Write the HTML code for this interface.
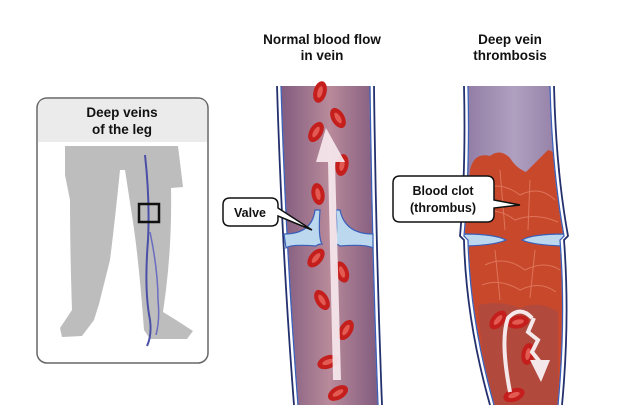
<!DOCTYPE html>
<html><head><meta charset="utf-8"><style>
html,body{margin:0;padding:0;background:#fff;}
svg{display:block;font-family:"Liberation Sans",sans-serif;}
</style></head><body>
<svg width="620" height="414" viewBox="0 0 620 414" xmlns="http://www.w3.org/2000/svg">
<defs>
<linearGradient id="vn" x1="0" x2="1" y1="0" y2="0">
<stop offset="0" stop-color="#7f5a7e"/><stop offset="0.5" stop-color="#b88a9a"/><stop offset="1" stop-color="#7f5a7e"/>
</linearGradient>
<linearGradient id="vt" x1="0" x2="1" y1="0" y2="0">
<stop offset="0" stop-color="#8f7aa2"/><stop offset="0.5" stop-color="#b0a0c0"/><stop offset="1" stop-color="#8f7aa2"/>
</linearGradient>
<g id="rbc"><ellipse rx="6.5" ry="11" fill="#c41f1c"/><ellipse rx="2.5" ry="6" fill="#e35a52"/></g>
</defs>

<!-- Left panel -->
<rect x="37" y="98" width="171" height="265" rx="10" fill="#fff" stroke="#666" stroke-width="1.5"/>
<path d="M38 108 Q38 99 47 99 L198 99 Q207 99 207 108 L207 142 L38 142 Z" fill="#ebebeb"/>
<text x="122" y="117" font-size="13.5" font-weight="bold" text-anchor="middle" fill="#111">Deep veins</text>
<text x="122" y="134" font-size="13.5" font-weight="bold" text-anchor="middle" fill="#111">of the leg</text>
<!-- legs -->
<path d="M65 146 L178 146 L183 187 L171 188 Q172 240 166 290 L163 312 L176 320 L193 331 L187 339 L150 339 L144 330 Q139 262 133 222 L125 170 L120 170 Q115 220 110 260 L99 304 L94 320 L82 336 L62 337 L60 328 L72 310 Q70 250 70 200 L65 175 Z" fill="#bdbdbd"/>
<path d="M145 155 Q150 200 148 240 Q144 290 150 320 Q152 335 147 346" stroke="#4a4fa8" stroke-width="2" fill="none"/>
<path d="M150 232 Q158 270 158 300 Q160 320 156 335" stroke="#6a6cc0" stroke-width="1.5" fill="none"/>
<rect x="139" y="204" width="20" height="18" fill="none" stroke="#111" stroke-width="2.5"/>

<!-- Titles -->
<g font-size="13.5" font-weight="bold" text-anchor="middle" fill="#111">
<text x="322" y="44">Normal blood flow</text>
<text x="322" y="60">in vein</text>
<text x="510" y="44">Deep vein</text>
<text x="510" y="60">thrombosis</text>
</g>

<!-- Normal vein -->
<path d="M279 86 L372 86 Q374 250 380 405 L296 405 Q284 250 279 86 Z" fill="url(#vn)"/>
<path d="M279 86 Q284 250 296 405" stroke="#ffffff" stroke-width="5" fill="none"/>
<path d="M372 86 Q374 250 380 405" stroke="#ffffff" stroke-width="5" fill="none"/>
<path d="M277 86 Q282 250 294 405" stroke="#23306e" stroke-width="1.8" fill="none"/>
<path d="M281 86 Q286 250 298 405" stroke="#3a5fb8" stroke-width="1.3" fill="none"/>
<path d="M374 86 Q376 250 382 405" stroke="#23306e" stroke-width="1.8" fill="none"/>
<path d="M370 86 Q372 250 378 405" stroke="#3a5fb8" stroke-width="1.3" fill="none"/>
<!-- valve -->
<path d="M284 234 Q312 234 315 210 L320 210 Q318 238 322 244 Q318 244 316 246 Q290 244 286 248 Z" fill="#bcd8ef" stroke="#3a5fb8" stroke-width="1.2"/>
<path d="M373 234 Q345 234 340 210 L336 210 Q338 238 334 244 Q338 244 340 246 Q366 244 373 248 Z" fill="#bcd8ef" stroke="#3a5fb8" stroke-width="1.2"/>
<!-- cells -->
<use href="#rbc" transform="translate(320,92) rotate(15)"/>
<use href="#rbc" transform="translate(338,118) rotate(-30)"/>
<use href="#rbc" transform="translate(316,132) rotate(30)"/>
<use href="#rbc" transform="translate(342,165) rotate(10)"/>
<use href="#rbc" transform="translate(318,194) rotate(-10)"/>
<use href="#rbc" transform="translate(316,258) rotate(40)"/>
<use href="#rbc" transform="translate(342,272) rotate(-20)"/>
<use href="#rbc" transform="translate(322,300) rotate(-30)"/>
<use href="#rbc" transform="translate(346,330) rotate(30)"/>
<use href="#rbc" transform="translate(328,362) rotate(70)"/>
<use href="#rbc" transform="translate(338,393) rotate(60)"/>
<!-- arrow -->
<path d="M326 128 L345 162 L335 162 L341 380 L333 380 L328 162 L316 162 Z" fill="#f4e6ea" opacity="0.95"/>
<!-- Valve label -->
<path d="M223 205 Q223 198 230 198 L271 198 Q278 198 278 205 L278 208 L312 230 L278 216 L278 219 Q278 226 271 226 L230 226 Q223 226 223 219 Z" fill="#fff" stroke="#111" stroke-width="1.5"/>
<text x="250" y="217" font-size="12.5" font-weight="bold" text-anchor="middle" fill="#111">Valve</text>

<!-- DVT vein -->
<path d="M466 86 L552 86 Q554 170 566 236 L562 240 Q568 310 560 405 L492 405 Q468 320 466 240 L462 236 Q468 170 466 86 Z" fill="url(#vt)"/>
<!-- clot -->
<path d="M470 170 Q474 152 490 156 Q500 148 510 158 Q516 168 526 172 Q540 158 548 150 Q560 152 560 175 L566 236 L562 240 Q568 300 556 310 L540 300 Q520 310 500 300 L478 305 Q468 280 466 240 L462 236 Q468 200 470 170 Z" fill="#c8482c"/>
<path d="M466 240 Q470 320 492 405 L560 405 Q568 320 562 240 Z" fill="#c8482c"/>
<path d="M478 305 Q500 300 520 308 Q540 300 558 312 L558 405 L492 405 Q482 360 478 305 Z" fill="#ad4a40" opacity="0.85"/>
<g stroke="#e8876c" stroke-width="1" fill="none" opacity="0.7">
<path d="M480 190 Q500 180 520 195 Q540 185 555 200"/><path d="M475 215 Q495 205 515 220 Q535 212 558 222"/>
<path d="M485 265 Q505 255 525 270 Q545 260 560 270"/><path d="M482 285 Q500 278 520 290 Q540 280 556 292"/>
<path d="M500 170 L505 230"/><path d="M530 180 L528 230"/><path d="M495 250 L500 300"/><path d="M535 250 L530 298"/>
</g>
<use href="#rbc" transform="translate(518,322) rotate(80)"/>
<use href="#rbc" transform="translate(498,320) rotate(40)"/>
<use href="#rbc" transform="translate(528,354) rotate(10)"/>
<use href="#rbc" transform="translate(514,395) rotate(70)"/>
<!-- valve dvt -->
<path d="M464 234 Q495 234 506 240 Q496 245 466 246 Z" fill="#bcd8ef" stroke="#3a5fb8" stroke-width="1.2"/>
<path d="M564 234 Q532 234 522 240 Q532 245 564 246 Z" fill="#bcd8ef" stroke="#3a5fb8" stroke-width="1.2"/>
<!-- vein walls -->
<path d="M466 86 Q468 170 462 236 L466 240 Q468 320 492 405" stroke="#fff" stroke-width="5" fill="none"/>
<path d="M552 86 Q554 170 566 236 L562 240 Q568 320 560 405" stroke="#fff" stroke-width="5" fill="none"/>
<path d="M464 86 Q466 170 460 236 L464 240 Q466 320 490 405" stroke="#23306e" stroke-width="1.8" fill="none"/>
<path d="M468 86 Q470 170 464 236 L468 240 Q470 320 494 405" stroke="#3a5fb8" stroke-width="1.3" fill="none"/>
<path d="M554 86 Q556 170 568 236 L564 240 Q570 320 562 405" stroke="#23306e" stroke-width="1.8" fill="none"/>
<path d="M550 86 Q552 170 564 236 L560 240 Q566 320 558 405" stroke="#3a5fb8" stroke-width="1.3" fill="none"/>
<!-- curved arrows -->
<path d="M510 392 Q500 340 508 318 Q520 305 532 318" stroke="#f4e8ea" stroke-width="4" fill="none"/>
<path d="M534 318 L528 332 L538 340 L532 352 L540 362" stroke="#f4e8ea" stroke-width="4" fill="none"/>
<path d="M530 360 L550 360 L541 382 Z" fill="#f4e8ea"/>
<!-- clot label -->
<path d="M393 183 Q393 176 400 176 L487 176 Q494 176 494 183 L494 200 L520 205 L494 208 L494 215 Q494 222 487 222 L400 222 Q393 222 393 215 Z" fill="#fff" stroke="#111" stroke-width="1.5"/>
<text x="443" y="195" font-size="12.5" font-weight="bold" text-anchor="middle" fill="#111">Blood clot</text>
<text x="443" y="212" font-size="12.5" font-weight="bold" text-anchor="middle" fill="#111">(thrombus)</text>
</svg>
</body></html>
